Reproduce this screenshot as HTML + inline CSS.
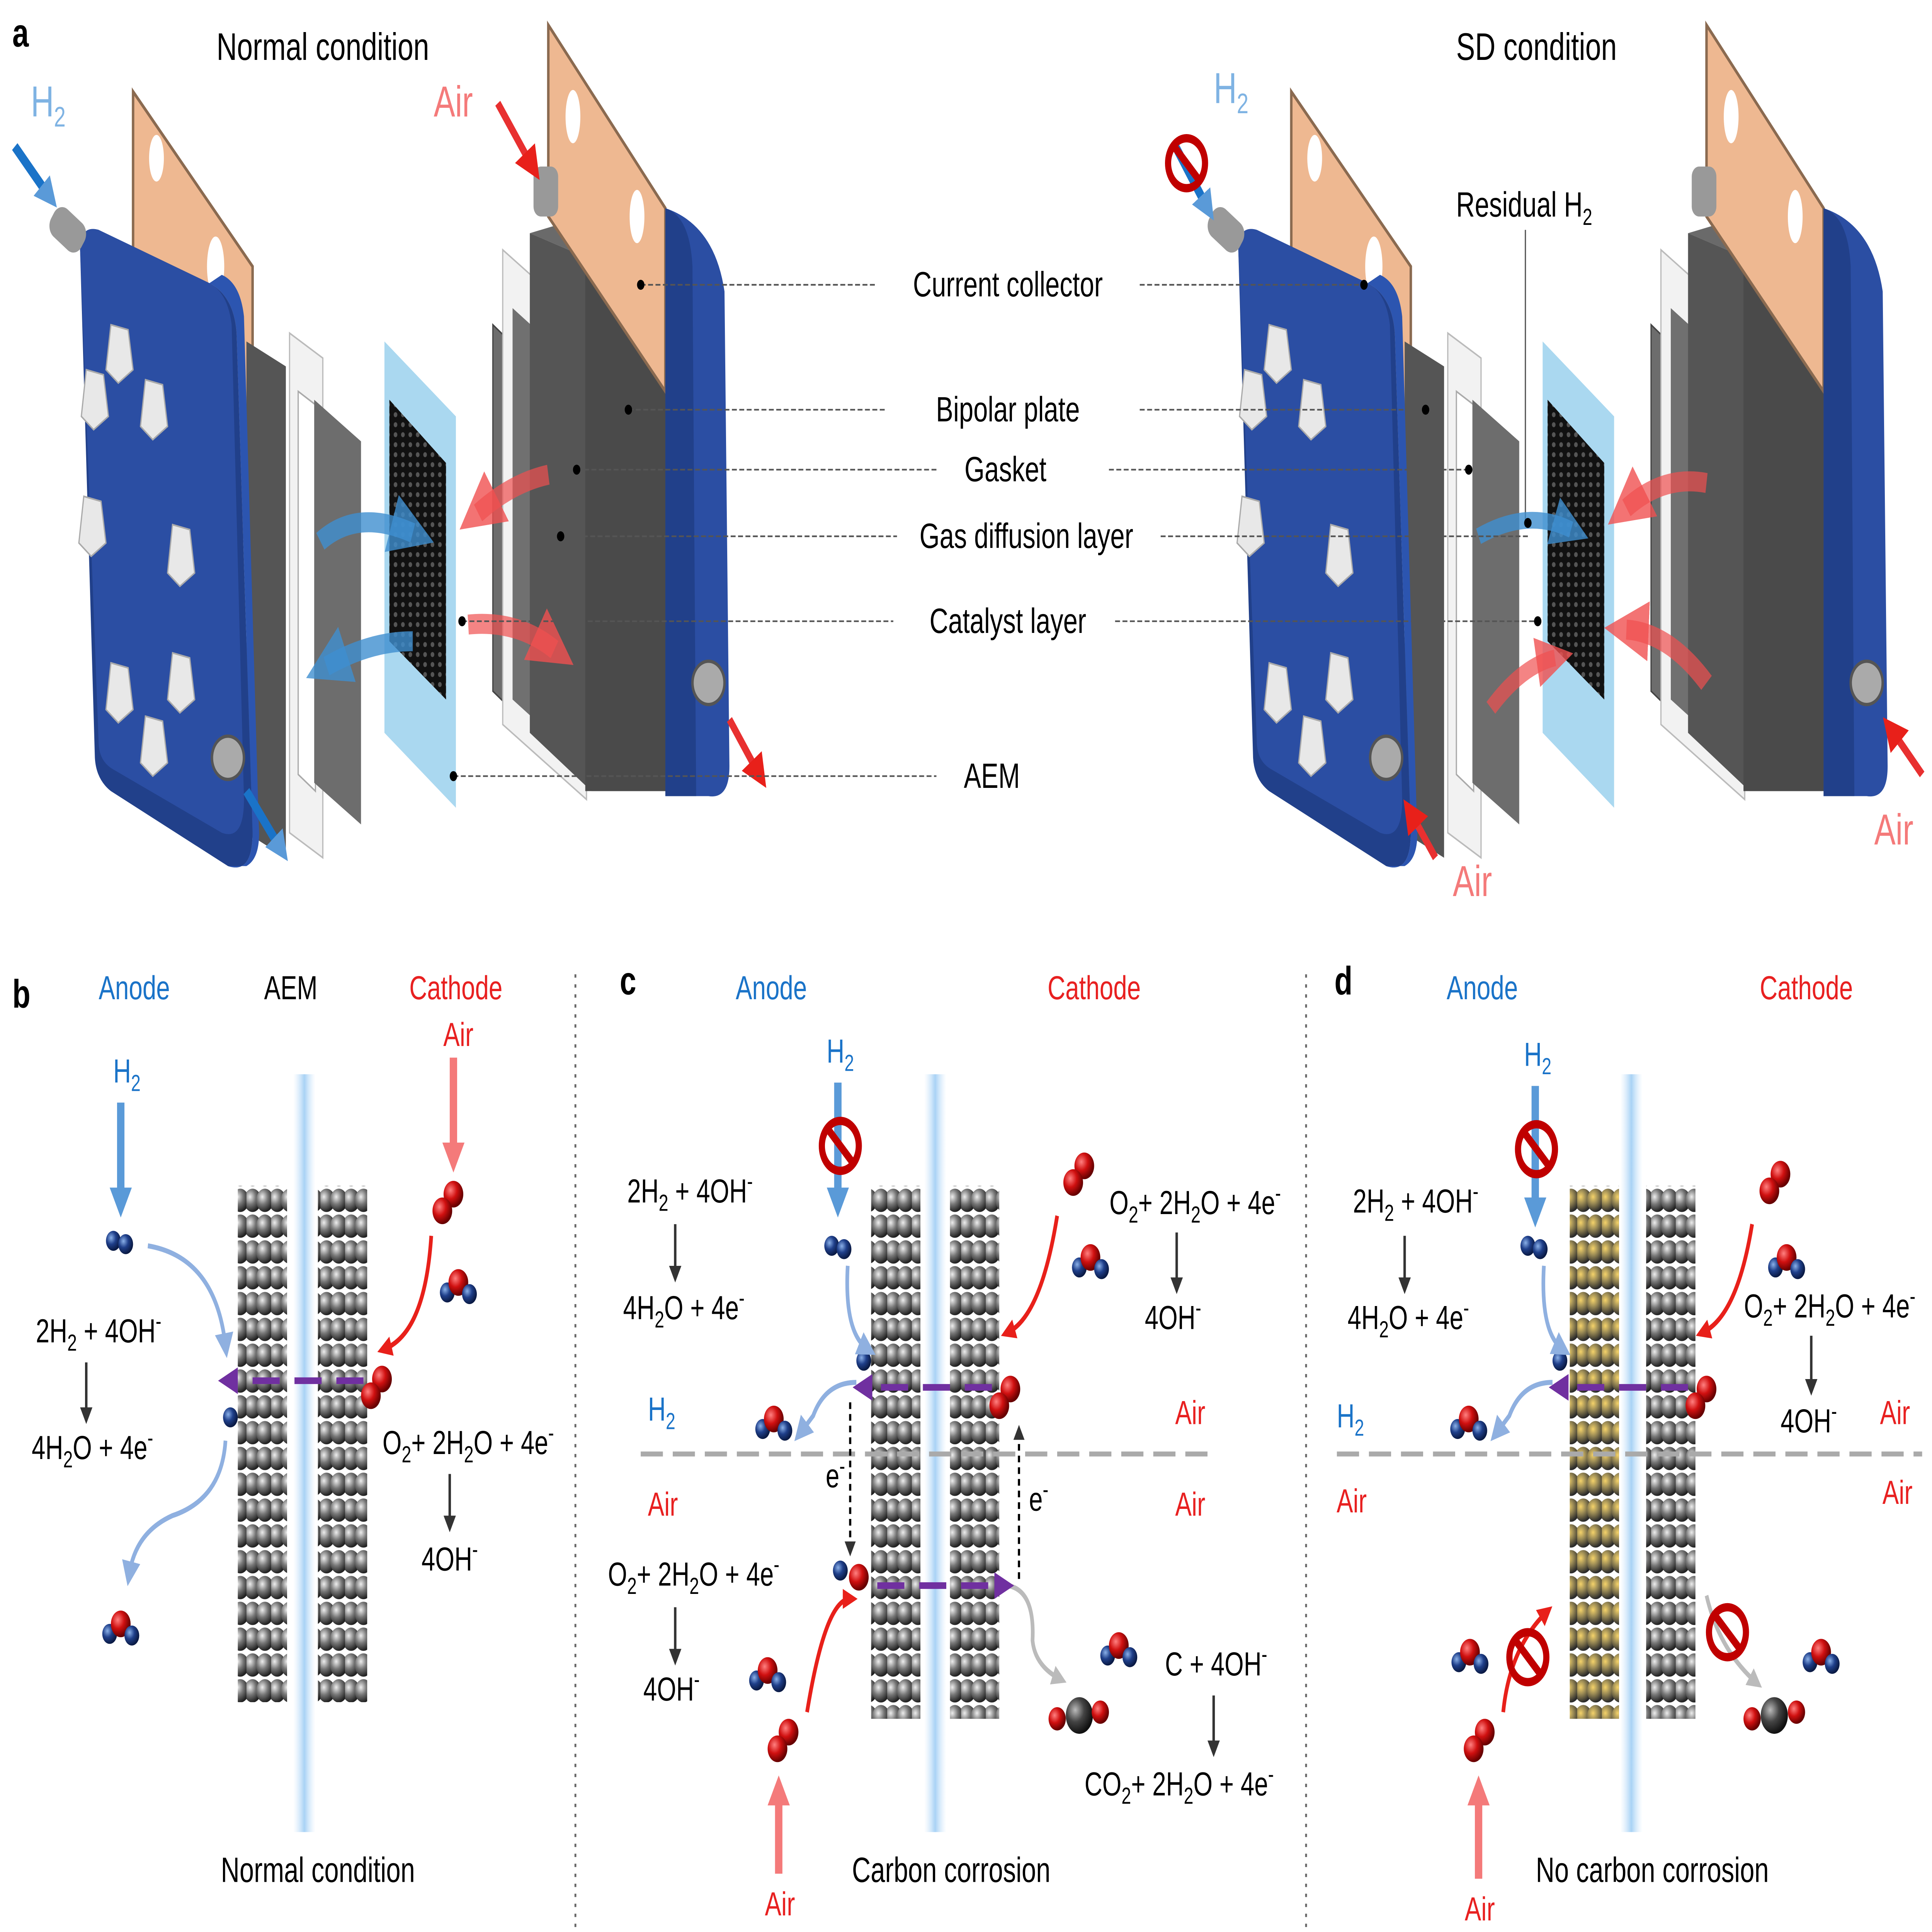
<!DOCTYPE html>
<html><head><meta charset="utf-8"><style>
html,body{margin:0;padding:0;background:#fff;width:100%;height:100%;overflow:hidden}
svg{display:block;position:absolute;left:0;top:0;width:100vw;height:100vh}
text{font-family:"Liberation Sans",Arial,sans-serif}
</style></head><body>
<svg viewBox="0 0 1568 1160" preserveAspectRatio="none" xmlns="http://www.w3.org/2000/svg">
<defs>
<radialGradient id="gs" cx="35%" cy="35%" r="65%"><stop offset="0" stop-color="#eee"/><stop offset="0.5" stop-color="#777"/><stop offset="1" stop-color="#222"/></radialGradient>
<radialGradient id="ys" cx="35%" cy="35%" r="65%"><stop offset="0" stop-color="#f5d36a"/><stop offset="0.45" stop-color="#9a8a55"/><stop offset="1" stop-color="#2a2a2a"/></radialGradient>
<radialGradient id="rs" cx="35%" cy="35%" r="65%"><stop offset="0" stop-color="#ff8080"/><stop offset="0.5" stop-color="#d01010"/><stop offset="1" stop-color="#600"/></radialGradient>
<radialGradient id="bs" cx="35%" cy="35%" r="65%"><stop offset="0" stop-color="#8ab0e8"/><stop offset="0.5" stop-color="#1f3f8a"/><stop offset="1" stop-color="#0a1a44"/></radialGradient>
<radialGradient id="ks" cx="35%" cy="35%" r="65%"><stop offset="0" stop-color="#bbb"/><stop offset="0.5" stop-color="#444"/><stop offset="1" stop-color="#111"/></radialGradient>
<pattern id="pg" width="20" height="15.5" patternUnits="userSpaceOnUse"><circle cx="5" cy="7.7" r="7" fill="url(#gs)"/><circle cx="15" cy="7.7" r="7" fill="url(#gs)"/></pattern>
<pattern id="py" width="20" height="15.5" patternUnits="userSpaceOnUse"><circle cx="5" cy="7.7" r="7" fill="url(#ys)"/><circle cx="15" cy="7.7" r="7" fill="url(#ys)"/></pattern>
<pattern id="mesh" width="6" height="6" patternUnits="userSpaceOnUse"><rect width="6" height="6" fill="#111"/><circle cx="3" cy="3" r="1.5" fill="#555"/></pattern>
<linearGradient id="mem" x1="0" x2="1"><stop offset="0" stop-color="#cfe6fb" stop-opacity="0"/><stop offset="0.5" stop-color="#a8d2f5"/><stop offset="1" stop-color="#cfe6fb" stop-opacity="0"/></linearGradient>
<marker id="ab" viewBox="0 0 10 10" refX="5" refY="5" markerWidth="5" markerHeight="5" orient="auto"><path d="M0,0L10,5L0,10z" fill="#8fb0e0"/></marker>
<marker id="ar" viewBox="0 0 10 10" refX="5" refY="5" markerWidth="4" markerHeight="4" orient="auto"><path d="M0,0L10,5L0,10z" fill="#e8201a"/></marker>
<marker id="ak" viewBox="0 0 10 10" refX="5" refY="5" markerWidth="5" markerHeight="5" orient="auto"><path d="M0,0L10,5L0,10z" fill="#333"/></marker>
<marker id="ap" viewBox="0 0 10 10" refX="5" refY="5" markerWidth="4" markerHeight="4" orient="auto"><path d="M0,0L10,5L0,10z" fill="#7030a0"/></marker>
<marker id="agr" viewBox="0 0 10 10" refX="5" refY="5" markerWidth="4" markerHeight="4" orient="auto"><path d="M0,0L10,5L0,10z" fill="#bbb"/></marker>
<marker id="bigb" viewBox="0 0 10 10" refX="5" refY="5" markerWidth="3" markerHeight="3" orient="auto"><path d="M0,0L10,5L0,10z" fill="#3f8fd0" fill-opacity="0.8"/></marker>
<marker id="bigr" viewBox="0 0 10 10" refX="5" refY="5" markerWidth="3" markerHeight="3" orient="auto"><path d="M0,0L10,5L0,10z" fill="#f05050" fill-opacity="0.8"/></marker>
<marker id="pr" viewBox="0 0 10 10" refX="5" refY="5" markerWidth="3" markerHeight="3" orient="auto"><path d="M0,0L10,5L0,10z" fill="#f47a7a"/></marker>
<marker id="pb" viewBox="0 0 10 10" refX="5" refY="5" markerWidth="3" markerHeight="3" orient="auto"><path d="M0,0L10,5L0,10z" fill="#5a9ad8"/></marker>
<g id="h2"><circle cx="0" cy="0" r="6" fill="url(#bs)"/><circle cx="10" cy="2" r="6" fill="url(#bs)"/></g>
<g id="o2"><circle cx="0" cy="0" r="8" fill="url(#rs)"/><circle cx="-9" cy="10" r="8" fill="url(#rs)"/></g>
<g id="h2o"><circle cx="-9" cy="6" r="6" fill="url(#bs)"/><circle cx="0" cy="0" r="8" fill="url(#rs)"/><circle cx="9" cy="7" r="6" fill="url(#bs)"/></g>
<g id="nosign"><circle r="15" fill="none" stroke="#c00000" stroke-width="5"/><line x1="-10" y1="-10" x2="10" y2="10" stroke="#c00000" stroke-width="5"/></g>
<g id="cell">
 <polygon points="108,55 205,160 205,330 108,230" fill="#eeb891" stroke="#8a6a50" stroke-width="2"/>
 <ellipse cx="175" cy="160" rx="7" ry="18" fill="#fff"/>
 <ellipse cx="127" cy="95" rx="6" ry="14" fill="#fff"/>
 <polygon points="235,200 262,215 262,515 235,500" fill="#f2f2f2" stroke="#bbb"/>
 <polygon points="242,235 256,243 256,475 242,465" fill="#fff" stroke="#aaa"/>
 <polygon points="255,240 293,265 293,495 255,470" fill="#6d6d6d"/>
 <polygon points="200,205 232,220 232,515 200,500" fill="#555"/>
 <path d="M65,150 Q65,135 80,138 L170,170 Q190,178 192,200 L205,500 Q205,525 185,520 L90,475 Q78,468 77,455 Z" fill="#21408a"/>
 <path d="M170,170 Q190,178 192,200 L205,500 Q205,525 185,520 L200,520 Q212,515 210,495 L198,190 Q195,170 180,165 Z" fill="#2c55b0"/>
 <path d="M65,150 Q65,135 80,138 L170,170 Q185,176 188,195 L198,480 Q198,505 180,500 L92,462 Q80,457 80,445 Z" fill="#2b4ea3"/>
 <g fill="#e8e8e8" stroke="#aaa">
  <polygon points="90,195 104,198 108,222 96,230 86,222"/><polygon points="70,222 84,225 88,250 76,258 66,250"/>
  <polygon points="118,228 132,231 136,256 124,264 114,256"/><polygon points="140,315 154,318 158,344 146,352 136,344"/>
  <polygon points="68,298 82,301 86,326 74,334 64,326"/><polygon points="90,398 104,401 108,426 96,434 86,426"/>
  <polygon points="140,392 154,395 158,420 146,428 136,420"/><polygon points="118,430 132,433 136,458 124,466 114,458"/>
 </g>
 <rect x="40" y="128" width="30" height="20" rx="8" fill="#999" transform="rotate(35 55 138)"/>
 <circle cx="185" cy="455" r="13" fill="#aaa" stroke="#555" stroke-width="2"/>
 <polygon points="312,205 370,250 370,485 312,440" fill="#aad8f0"/>
 <polygon points="316,240 362,278 362,420 316,385" fill="url(#mesh)"/>
 <polygon points="400,195 462,240 462,460 400,415" fill="#6d6d6d" stroke="#444"/>
 <polygon points="408,150 476,195 476,480 408,435" fill="#f2f2f2" stroke="#bbb"/>
 <polygon points="416,185 468,220 468,455 416,420" fill="#707070"/>
 <polygon points="430,140 540,175 540,475 480,475 430,440" fill="#555"/>
 <polygon points="430,140 475,130 540,160 540,175" fill="#6a6a6a"/>
 <polygon points="475,150 540,175 540,475 475,475" fill="#4a4a4a"/>
 <polygon points="445,15 540,125 540,235 445,130" fill="#eeb891" stroke="#8a6a50" stroke-width="2"/>
 <ellipse cx="465" cy="70" rx="6" ry="16" fill="#fff"/><ellipse cx="517" cy="130" rx="6" ry="16" fill="#fff"/>
 <path d="M540,125 Q580,135 588,175 L592,460 Q592,480 575,478 L540,478 Z" fill="#2b4ea3"/>
 <path d="M540,125 Q560,130 562,160 L565,478 L540,478 Z" fill="#21408a"/>
 <circle cx="575" cy="410" r="13" fill="#aaa" stroke="#555" stroke-width="2"/>
 <rect x="433" y="100" width="20" height="30" rx="6" fill="#999"/>
</g>
</defs>

<text x="10" y="28" font-size="24" font-weight="bold">a</text>
<text x="262" y="36" font-size="23" text-anchor="middle">Normal condition</text>
<text x="1247" y="36" font-size="23" text-anchor="middle">SD condition</text>

<use href="#cell"/>
<use href="#cell" x="940" y="0"/>

<text x="25" y="70" font-size="26" fill="#7fb3e3">H<tspan dy="6" font-size="17">2</tspan></text>
<line x1="12" y1="88" x2="40" y2="118" stroke="#1a73c8" stroke-width="6" marker-end="url(#pb)"/>
<text x="352" y="70" font-size="26" fill="#f47a7a">Air</text>
<line x1="404" y1="62" x2="432" y2="100" stroke="#e83030" stroke-width="5" marker-end="url(#ar)"/>
<line x1="200" y1="475" x2="228" y2="510" stroke="#1a73c8" stroke-width="6" marker-end="url(#pb)"/>
<line x1="592" y1="432" x2="616" y2="465" stroke="#e83030" stroke-width="5" marker-end="url(#ar)"/>
<path d="M260,325 Q290,305 335,320" stroke="#3f8fd0" stroke-opacity="0.8" stroke-width="12" fill="none" marker-end="url(#bigb)"/>
<path d="M335,385 Q300,385 265,400" stroke="#3f8fd0" stroke-opacity="0.8" stroke-width="12" fill="none" marker-end="url(#bigb)"/>
<path d="M445,285 Q415,290 388,308" stroke="#f05050" stroke-opacity="0.7" stroke-width="12" fill="none" marker-end="url(#bigr)"/>
<path d="M380,375 Q420,372 450,390" stroke="#f05050" stroke-opacity="0.7" stroke-width="12" fill="none" marker-end="url(#bigr)"/>

<text x="985" y="62" font-size="26" fill="#7fb3e3">H<tspan dy="6" font-size="17">2</tspan></text>
<line x1="952" y1="85" x2="980" y2="125" stroke="#1a73c8" stroke-width="6" marker-end="url(#pb)"/>
<use href="#nosign" x="963" y="98"/>
<text x="1237" y="130" font-size="21" text-anchor="middle">Residual H<tspan dy="5" font-size="14">2</tspan></text>
<line x1="1238" y1="138" x2="1238" y2="312" stroke="#555" stroke-width="1"/>
<path d="M1200,322 Q1240,305 1275,318" stroke="#3f8fd0" stroke-opacity="0.8" stroke-width="10" fill="none" marker-end="url(#bigb)"/>
<path d="M1385,290 Q1350,285 1320,305" stroke="#f05050" stroke-opacity="0.7" stroke-width="12" fill="none" marker-end="url(#bigr)"/>
<path d="M1385,410 Q1355,380 1320,378" stroke="#f05050" stroke-opacity="0.7" stroke-width="12" fill="none" marker-end="url(#bigr)"/>
<path d="M1210,425 Q1235,400 1262,395" stroke="#f05050" stroke-opacity="0.7" stroke-width="10" fill="none" marker-end="url(#bigr)"/>
<line x1="1165" y1="515" x2="1145" y2="488" stroke="#e83030" stroke-width="5" marker-end="url(#ar)"/>
<text x="1195" y="538" font-size="26" fill="#f47a7a" text-anchor="middle">Air</text>
<line x1="1560" y1="465" x2="1535" y2="438" stroke="#e83030" stroke-width="5" marker-end="url(#ar)"/>
<text x="1537" y="507" font-size="26" fill="#f47a7a" text-anchor="middle">Air</text>

<g stroke="#555" stroke-width="1" stroke-dasharray="4,2">
<line x1="520" y1="171" x2="710" y2="171"/><line x1="925" y1="171" x2="1107" y2="171"/>
<line x1="510" y1="246" x2="720" y2="246"/><line x1="925" y1="246" x2="1157" y2="246"/>
<line x1="468" y1="282" x2="762" y2="282"/><line x1="900" y1="282" x2="1192" y2="282"/>
<line x1="455" y1="322" x2="728" y2="322"/><line x1="942" y1="322" x2="1240" y2="322"/>
<line x1="375" y1="373" x2="725" y2="373"/><line x1="905" y1="373" x2="1248" y2="373"/>
<line x1="368" y1="466" x2="760" y2="466"/>
</g>
<g fill="#000"><circle cx="520" cy="171" r="3"/><circle cx="1107" cy="171" r="3"/><circle cx="510" cy="246" r="3"/><circle cx="1157" cy="246" r="3"/><circle cx="468" cy="282" r="3"/><circle cx="1192" cy="282" r="3"/><circle cx="455" cy="322" r="3"/><circle cx="1240" cy="314" r="3"/><circle cx="375" cy="373" r="3"/><circle cx="1248" cy="373" r="3"/><circle cx="368" cy="466" r="3"/></g>
<g font-size="21" text-anchor="middle">
<text x="818" y="178">Current collector</text>
<text x="818" y="253">Bipolar plate</text>
<text x="816" y="289">Gasket</text>
<text x="833" y="329">Gas diffusion layer</text>
<text x="818" y="380">Catalyst layer</text>
<text x="805" y="473">AEM</text>
</g>

<line x1="467" y1="585" x2="467" y2="1160" stroke="#666" stroke-width="1.5" stroke-dasharray="2,4"/>
<line x1="1060" y1="585" x2="1060" y2="1160" stroke="#666" stroke-width="1.5" stroke-dasharray="2,4"/>

<text x="10" y="605" font-size="24" font-weight="bold">b</text>
<g font-size="20" text-anchor="middle">
<text x="109" y="600" fill="#1a73c8">Anode</text><text x="236" y="600">AEM</text><text x="370" y="600" fill="#e82020">Cathode</text>
<text x="372" y="628" fill="#e82020">Air</text>
<text x="103" y="650" fill="#1a73c8">H<tspan dy="5" font-size="14">2</tspan></text>
<text x="80" y="806">2H<tspan dy="5" font-size="14">2</tspan><tspan dy="-5"> + 4OH</tspan><tspan dy="-8" font-size="14">-</tspan></text>
<text x="75" y="876">4H<tspan dy="5" font-size="14">2</tspan><tspan dy="-5">O + 4e</tspan><tspan dy="-8" font-size="14">-</tspan></text>
<text x="380" y="873">O<tspan dy="5" font-size="14">2</tspan><tspan dy="-5">+ 2H</tspan><tspan dy="5" font-size="14">2</tspan><tspan dy="-5">O + 4e</tspan><tspan dy="-8" font-size="14">-</tspan></text>
<text x="365" y="943">4OH<tspan dy="-8" font-size="14">-</tspan></text>
<text x="258" y="1130" font-size="21">Normal condition</text>
</g>
<rect x="238" y="645" width="18" height="455" fill="url(#mem)"/>
<rect x="193" y="712" width="40" height="310" fill="url(#pg)"/>
<rect x="258" y="712" width="40" height="310" fill="url(#pg)"/>
<line x1="98" y1="662" x2="98" y2="722" stroke="#5a9ad8" stroke-width="6" marker-end="url(#pb)"/>
<line x1="368" y1="635" x2="368" y2="695" stroke="#f47a7a" stroke-width="6" marker-end="url(#pr)"/>
<line x1="70" y1="818" x2="70" y2="850" stroke="#333" stroke-width="2" marker-end="url(#ak)"/>
<line x1="365" y1="885" x2="365" y2="915" stroke="#333" stroke-width="2" marker-end="url(#ak)"/>
<use href="#h2" x="92" y="745"/><use href="#o2" x="368" y="717"/><use href="#h2o" x="372" y="770"/>
<use href="#o2" x="310" y="828"/><circle cx="187" cy="851" r="6" fill="url(#bs)"/><use href="#h2o" x="98" y="975"/>
<path d="M120,748 Q175,755 183,808" stroke="#8fb0e0" stroke-width="3" fill="none" marker-end="url(#ab)"/>
<path d="M183,865 Q180,900 140,910 Q110,920 105,945" stroke="#8fb0e0" stroke-width="3" fill="none" marker-end="url(#ab)"/>
<path d="M350,742 Q345,800 312,810" stroke="#e8201a" stroke-width="3" fill="none" marker-end="url(#ar)"/>
<line x1="295" y1="829" x2="185" y2="829" stroke="#7030a0" stroke-width="4" stroke-dasharray="22,12" marker-end="url(#ap)"/>

<text x="503" y="597" font-size="24" font-weight="bold">c</text>
<g font-size="20" text-anchor="middle">
<text x="626" y="600" fill="#1a73c8">Anode</text><text x="888" y="600" fill="#e82020">Cathode</text>
<text x="682" y="638" fill="#1a73c8">H<tspan dy="5" font-size="14">2</tspan></text>
<text x="560" y="722">2H<tspan dy="5" font-size="14">2</tspan><tspan dy="-5"> + 4OH</tspan><tspan dy="-8" font-size="14">-</tspan></text>
<text x="555" y="792">4H<tspan dy="5" font-size="14">2</tspan><tspan dy="-5">O + 4e</tspan><tspan dy="-8" font-size="14">-</tspan></text>
<text x="970" y="729">O<tspan dy="5" font-size="14">2</tspan><tspan dy="-5">+ 2H</tspan><tspan dy="5" font-size="14">2</tspan><tspan dy="-5">O + 4e</tspan><tspan dy="-8" font-size="14">-</tspan></text>
<text x="952" y="798">4OH<tspan dy="-8" font-size="14">-</tspan></text>
<text x="537" y="853" fill="#1a73c8">H<tspan dy="5" font-size="14">2</tspan></text>
<text x="966" y="855" fill="#e82020">Air</text>
<text x="538" y="910" fill="#e82020">Air</text><text x="966" y="910" fill="#e82020">Air</text>
<text x="678" y="893">e<tspan dy="-8" font-size="14">-</tspan></text>
<text x="843" y="907">e<tspan dy="-8" font-size="14">-</tspan></text>
<text x="563" y="952">O<tspan dy="5" font-size="14">2</tspan><tspan dy="-5">+ 2H</tspan><tspan dy="5" font-size="14">2</tspan><tspan dy="-5">O + 4e</tspan><tspan dy="-8" font-size="14">-</tspan></text>
<text x="545" y="1021">4OH<tspan dy="-8" font-size="14">-</tspan></text>
<text x="987" y="1006">C + 4OH<tspan dy="-8" font-size="14">-</tspan></text>
<text x="957" y="1078">CO<tspan dy="5" font-size="14">2</tspan><tspan dy="-5">+ 2H</tspan><tspan dy="5" font-size="14">2</tspan><tspan dy="-5">O + 4e</tspan><tspan dy="-8" font-size="14">-</tspan></text>
<text x="633" y="1150" fill="#e82020">Air</text>
<text x="772" y="1130" font-size="21">Carbon corrosion</text>
</g>
<rect x="750" y="645" width="18" height="455" fill="url(#mem)"/>
<rect x="707" y="712" width="40" height="320" fill="url(#pg)"/>
<rect x="771" y="712" width="40" height="320" fill="url(#pg)"/>
<line x1="520" y1="873" x2="985" y2="873" stroke="#aaa" stroke-width="3" stroke-dasharray="18,8"/>
<line x1="680" y1="650" x2="680" y2="722" stroke="#5a9ad8" stroke-width="6" marker-end="url(#pb)"/>
<use href="#nosign" x="682" y="688"/>
<line x1="548" y1="735" x2="548" y2="765" stroke="#333" stroke-width="2" marker-end="url(#ak)"/>
<line x1="955" y1="740" x2="955" y2="772" stroke="#333" stroke-width="2" marker-end="url(#ak)"/>
<line x1="548" y1="965" x2="548" y2="995" stroke="#333" stroke-width="2" marker-end="url(#ak)"/>
<line x1="985" y1="1018" x2="985" y2="1050" stroke="#333" stroke-width="2" marker-end="url(#ak)"/>
<use href="#h2" x="675" y="748"/><use href="#o2" x="880" y="700"/><use href="#h2o" x="885" y="755"/>
<use href="#o2" x="820" y="834"/><circle cx="701" cy="817" r="6" fill="url(#bs)"/><use href="#h2o" x="628" y="852"/>
<circle cx="697" cy="947" r="8" fill="url(#rs)"/><circle cx="682" cy="943" r="6" fill="url(#bs)"/>
<use href="#h2o" x="623" y="1003"/><use href="#o2" x="640" y="1040"/>
<circle cx="876" cy="1030" r="11" fill="url(#ks)"/><circle cx="858" cy="1032" r="7" fill="url(#rs)"/><circle cx="893" cy="1028" r="7" fill="url(#rs)"/>
<use href="#h2o" x="908" y="988"/>
<path d="M688,760 Q685,800 704,810" stroke="#8fb0e0" stroke-width="3" fill="none" marker-end="url(#ab)"/>
<path d="M695,830 Q670,830 660,850 L650,860" stroke="#8fb0e0" stroke-width="3" fill="none" marker-end="url(#ab)"/>
<path d="M858,730 Q845,790 818,800" stroke="#e8201a" stroke-width="3" fill="none" marker-end="url(#ar)"/>
<path d="M655,1028 Q670,960 690,960" stroke="#e8201a" stroke-width="3" fill="none" marker-end="url(#ar)"/>
<line x1="632" y1="1125" x2="632" y2="1075" stroke="#f47a7a" stroke-width="6" marker-end="url(#pr)"/>
<path d="M818,952 Q840,955 838,985 Q840,1000 860,1008" stroke="#bbb" stroke-width="3" fill="none" marker-end="url(#agr)"/>
<line x1="805" y1="833" x2="700" y2="833" stroke="#7030a0" stroke-width="4" stroke-dasharray="22,12" marker-end="url(#ap)"/>
<line x1="712" y1="952" x2="815" y2="952" stroke="#7030a0" stroke-width="4" stroke-dasharray="22,12" marker-end="url(#ap)"/>
<line x1="690" y1="842" x2="690" y2="930" stroke="#000" stroke-width="1.8" stroke-dasharray="4,3" marker-end="url(#ak)"/>
<line x1="827" y1="948" x2="827" y2="860" stroke="#000" stroke-width="1.8" stroke-dasharray="4,3" marker-end="url(#ak)"/>

<text x="1083" y="597" font-size="24" font-weight="bold">d</text>
<g font-size="20" text-anchor="middle">
<text x="1203" y="600" fill="#1a73c8">Anode</text><text x="1466" y="600" fill="#e82020">Cathode</text>
<text x="1248" y="640" fill="#1a73c8">H<tspan dy="5" font-size="14">2</tspan></text>
<text x="1149" y="728">2H<tspan dy="5" font-size="14">2</tspan><tspan dy="-5"> + 4OH</tspan><tspan dy="-8" font-size="14">-</tspan></text>
<text x="1143" y="798">4H<tspan dy="5" font-size="14">2</tspan><tspan dy="-5">O + 4e</tspan><tspan dy="-8" font-size="14">-</tspan></text>
<text x="1485" y="791">O<tspan dy="5" font-size="14">2</tspan><tspan dy="-5">+ 2H</tspan><tspan dy="5" font-size="14">2</tspan><tspan dy="-5">O + 4e</tspan><tspan dy="-8" font-size="14">-</tspan></text>
<text x="1468" y="860">4OH<tspan dy="-8" font-size="14">-</tspan></text>
<text x="1538" y="855" fill="#e82020">Air</text>
<text x="1096" y="857" fill="#1a73c8">H<tspan dy="5" font-size="14">2</tspan></text>
<text x="1097" y="908" fill="#e82020">Air</text><text x="1540" y="903" fill="#e82020">Air</text>
<text x="1201" y="1153" fill="#e82020">Air</text>
<text x="1341" y="1130" font-size="21">No carbon corrosion</text>
</g>
<rect x="1315" y="645" width="18" height="455" fill="url(#mem)"/>
<rect x="1274" y="712" width="40" height="320" fill="url(#py)"/>
<rect x="1336" y="712" width="40" height="320" fill="url(#pg)"/>
<line x1="1085" y1="873" x2="1560" y2="873" stroke="#aaa" stroke-width="3" stroke-dasharray="18,8"/>
<line x1="1246" y1="652" x2="1246" y2="728" stroke="#5a9ad8" stroke-width="6" marker-end="url(#pb)"/>
<use href="#nosign" x="1247" y="690"/>
<line x1="1140" y1="742" x2="1140" y2="772" stroke="#333" stroke-width="2" marker-end="url(#ak)"/>
<line x1="1470" y1="802" x2="1470" y2="833" stroke="#333" stroke-width="2" marker-end="url(#ak)"/>
<use href="#h2" x="1240" y="748"/><use href="#o2" x="1445" y="705"/><use href="#h2o" x="1450" y="755"/>
<use href="#o2" x="1385" y="834"/><circle cx="1266" cy="817" r="6" fill="url(#bs)"/><use href="#h2o" x="1192" y="852"/>
<use href="#h2o" x="1193" y="992"/><use href="#o2" x="1205" y="1040"/>
<use href="#h2o" x="1478" y="992"/>
<circle cx="1440" cy="1030" r="11" fill="url(#ks)"/><circle cx="1422" cy="1032" r="7" fill="url(#rs)"/><circle cx="1458" cy="1028" r="7" fill="url(#rs)"/>
<path d="M1253,760 Q1250,800 1268,810" stroke="#8fb0e0" stroke-width="3" fill="none" marker-end="url(#ab)"/>
<path d="M1260,830 Q1235,830 1225,850 L1215,860" stroke="#8fb0e0" stroke-width="3" fill="none" marker-end="url(#ab)"/>
<path d="M1422,735 Q1410,790 1382,800" stroke="#e8201a" stroke-width="3" fill="none" marker-end="url(#ar)"/>
<path d="M1220,1028 Q1225,990 1255,968" stroke="#e8201a" stroke-width="3" fill="none" marker-end="url(#ar)"/>
<use href="#nosign" x="1240" y="995"/>
<line x1="1200" y1="1128" x2="1200" y2="1075" stroke="#f47a7a" stroke-width="6" marker-end="url(#pr)"/>
<path d="M1385,958 Q1395,990 1425,1010" stroke="#bbb" stroke-width="3" fill="none" marker-end="url(#agr)"/>
<use href="#nosign" x="1402" y="980"/>
<line x1="1370" y1="833" x2="1265" y2="833" stroke="#7030a0" stroke-width="4" stroke-dasharray="22,12" marker-end="url(#ap)"/>
</svg>
</body></html>
